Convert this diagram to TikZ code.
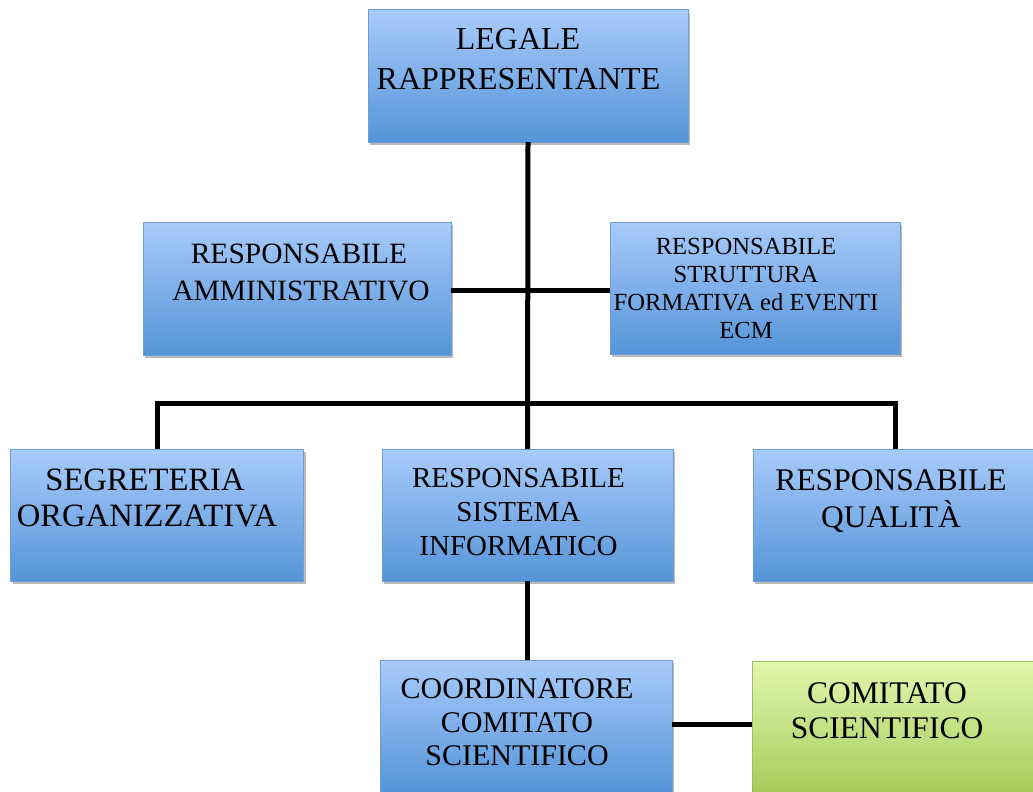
\documentclass[tikz,border=0pt]{standalone}
\usepackage{fontspec}
\setmainfont{Liberation Serif}
\usetikzlibrary{shadows}
\definecolor{bluetop}{HTML}{A8CBFA}
\definecolor{bluebot}{HTML}{5594D8}
\definecolor{blueedge}{HTML}{6D9FD6}
\definecolor{greentop}{HTML}{E2F7AE}
\definecolor{greenbot}{HTML}{A6CB5A}
\definecolor{greenedge}{HTML}{9DBE5E}
\tikzset{
  boxbase/.style={rectangle, inner sep=0pt, outer sep=0pt, line width=1pt,
    drop shadow={shadow xshift=2pt, shadow yshift=-3pt, opacity=0.45, fill=black!60}},
  bluebox/.style={boxbase, draw=blueedge, top color=bluetop, bottom color=bluebot},
  greenbox/.style={boxbase, draw=greenedge, top color=greentop, bottom color=greenbot},
  conn/.style={line width=5pt, line join=miter, black},
  lbl/.style={anchor=base, inner sep=0pt, font=#1},
}
\newcommand{\fsz}[1]{\fontsize{#1}{#1}\selectfont}
\begin{document}
\begin{tikzpicture}[x=1pt, y=-1pt]
\useasboundingbox (0,0) rectangle (1033,792);
\clip (0,0) rectangle (1033,792);
\fill[white] (0,0) rectangle (1033,792);

% boxes
\node[bluebox, minimum width=320pt, minimum height=132pt] (legale) at (528,76) {};
\node[bluebox, minimum width=308pt, minimum height=133pt] (amm) at (297,288.5) {};
\node[bluebox, minimum width=290pt, minimum height=132pt] (strutt) at (755,288) {};
\node[bluebox, minimum width=293pt, minimum height=132pt] (segr) at (157,515) {};
\node[bluebox, minimum width=291pt, minimum height=132pt] (sist) at (527.5,515) {};
\node[bluebox, minimum width=285pt, minimum height=132pt] (qual) at (895.5,515) {};
\node[bluebox, minimum width=292pt, minimum height=132pt] (coord) at (526,726) {};
\node[greenbox, minimum width=288pt, minimum height=132pt] (comit) at (896,727) {};

% connectors
\coordinate (bar) at (527,403);
\draw[conn] (legale.south) -- (sist.north);
\draw[conn] (amm.east |- 0,290) -- (strutt.west |- 0,290);
\draw[conn] (segr.north) -- (segr.north |- bar) -- (qual.north |- bar) -- (qual.north);
\draw[conn] (sist.south) -- (sist.south |- coord.north);
\draw[conn] (coord.east |- 0,724) -- (comit.west |- 0,724);

% labels
\node[lbl=\fsz{32}] (t1a) at (518,50) {LEGALE};
\node[lbl=\fsz{32}] (t1b) at (518.5,89) {RAPPRESENTANTE};

\node[lbl=\fsz{29.5}] (t2a) at (299,263) {RESPONSABILE};
\node[lbl=\fsz{29.5}] (t2b) at (301,300) {AMMINISTRATIVO};

\node[lbl=\fsz{24.6}] (t3a) at (746,254) {RESPONSABILE};
\node[lbl=\fsz{24.6}] (t3b) at (746,282) {STRUTTURA};
\node[lbl=\fsz{24.6}] (t3c) at (746,310) {FORMATIVA ed EVENTI};
\node[lbl=\fsz{24.6}] (t3d) at (746,338) {ECM};

\node[lbl=\fsz{32.6}] (t4a) at (145,490) {SEGRETERIA};
\node[lbl=\fsz{32.6}] (t4b) at (147,526) {ORGANIZZATIVA};

\node[lbl=\fsz{29}] (t5a) at (518.5,487) {RESPONSABILE};
\node[lbl=\fsz{29}] (t5b) at (518.5,521) {SISTEMA};
\node[lbl=\fsz{29}] (t5c) at (518.5,555) {INFORMATICO};

\node[lbl=\fsz{31.5}] (t6a) at (891,490) {RESPONSABILE};
\node[lbl=\fsz{31.5}] (t6b) at (891,527) {QUALITÀ};

\node[lbl=\fsz{30}] (t7a) at (517,698) {COORDINATORE};
\node[lbl=\fsz{30}] (t7b) at (517,732) {COMITATO};
\node[lbl=\fsz{30}] (t7c) at (517,765) {SCIENTIFICO};

\node[lbl=\fsz{31.5}] (t8a) at (887,703) {COMITATO};
\node[lbl=\fsz{31.5}] (t8b) at (887,738) {SCIENTIFICO};
\end{tikzpicture}
\end{document}
